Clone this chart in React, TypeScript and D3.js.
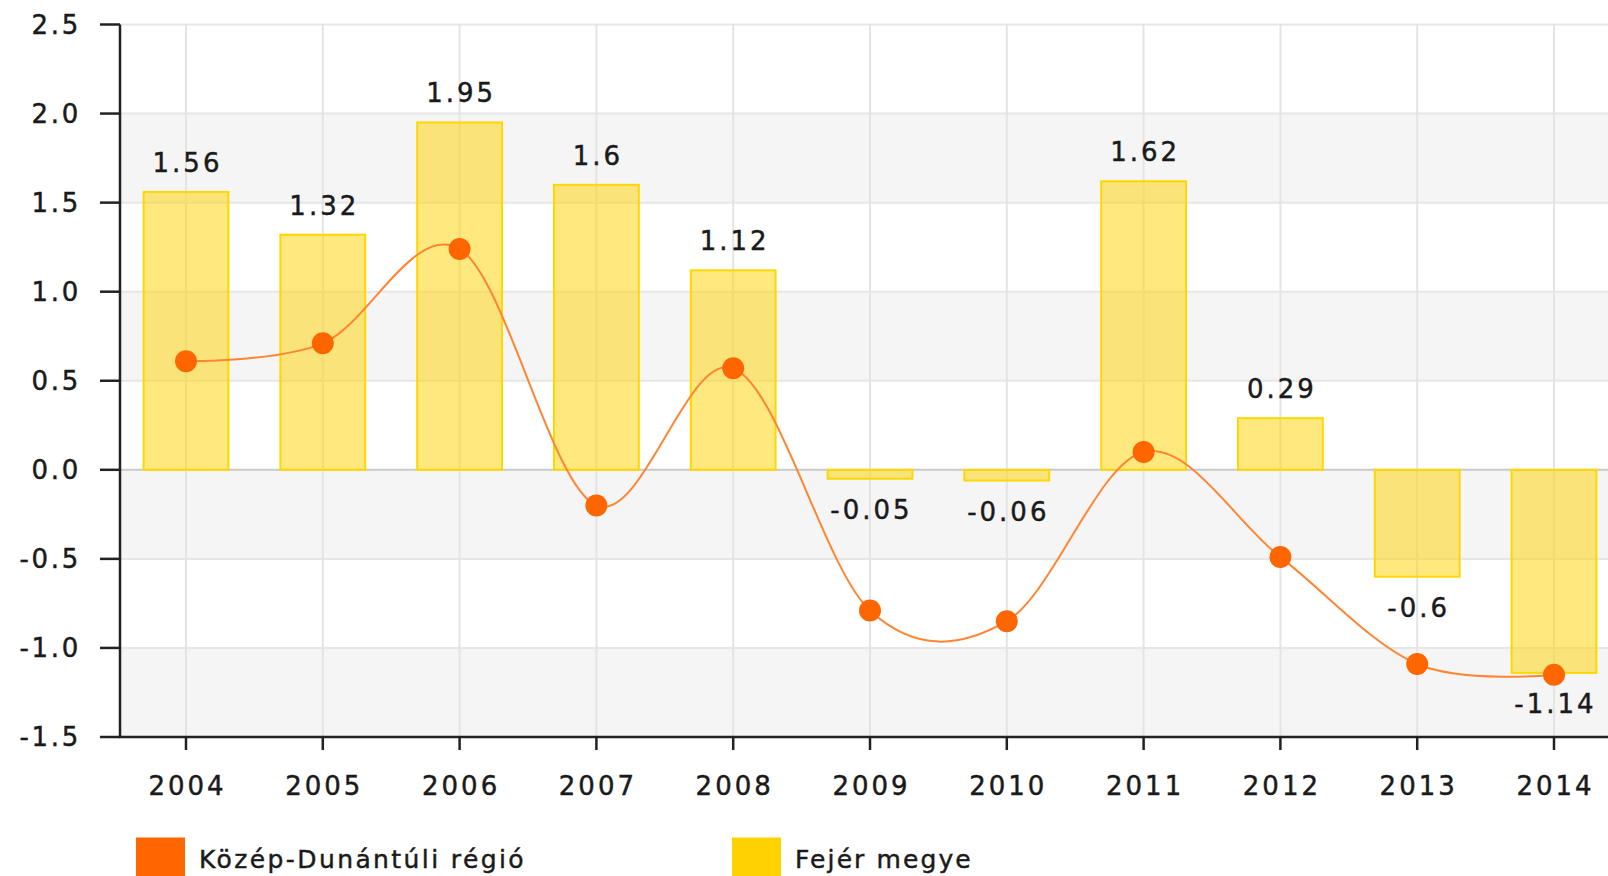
import React from "react";
import * as d3 from "d3";

const years = ["2004", "2005", "2006", "2007", "2008", "2009", "2010", "2011", "2012", "2013", "2014"];
const fejerValues = [1.56, 1.32, 1.95, 1.6, 1.12, -0.05, -0.06, 1.62, 0.29, -0.6, -1.14];
const regioValues = [0.61, 0.71, 1.24, -0.2, 0.57, -0.79, -0.85, 0.1, -0.49, -1.09, -1.15];
const yTicks = [2.5, 2.0, 1.5, 1.0, 0.5, 0.0, -0.5, -1.0, -1.5];
const seriesNames = ["Közép-Dunántúli régió", "Fejér megye"];
const seriesColors = ["#ff6600", "#ffd200"];

const W = 1608;
const H = 876;
const FONT = "'DejaVu Sans', Verdana, sans-serif";

export default function App() {
  const x = d3
    .scaleBand<string>()
    .domain(years)
    .range([117.6, 1622.4])
    .paddingInner(0.38)
    .paddingOuter(0.19);
  const y = d3.scaleLinear().domain([-1.5, 2.5]).range([737, 24.5]);
  const cx = (yr: string) => (x(yr) as number) + x.bandwidth() / 2;
  const left = 120;
  const right = 1640;
  const top = y(2.5);
  const bottom = y(-1.5);

  const bands = d3.range(0, 8).map((i) => ({ hi: 2.5 - i * 0.5, lo: 2.0 - i * 0.5, gray: i % 2 === 1 }));

  const line = d3
    .line<number>()
    .x((_, i) => cx(years[i]))
    .y((d) => y(d))
    .curve(d3.curveCardinal.tension(0));

  const textStyle = { fill: "#1a1a1a", stroke: "#1a1a1a", strokeWidth: 0.45 };

  return (
    <svg
      width={W}
      height={H}
      style={{ position: "fixed", left: 0, top: 0, background: "#fff" }}
      fontFamily={FONT}
    >
      {bands.map((b, i) => (
        <rect
          key={"band" + i}
          x={left}
          y={y(b.hi)}
          width={right - left}
          height={y(b.lo) - y(b.hi)}
          fill={b.gray ? "#f5f5f5" : "#ffffff"}
        />
      ))}
      {yTicks.filter((t) => t !== -1.5).map((t) => (
        <line
          key={"hg" + t}
          x1={left}
          x2={right}
          y1={y(t)}
          y2={y(t)}
          stroke={t === 0 ? "#c9c9c9" : "#e6e6e6"}
          strokeWidth={2}
        />
      ))}
      {years.map((yr) => (
        <line key={"vg" + yr} x1={cx(yr)} x2={cx(yr)} y1={top} y2={bottom} stroke="#e4e4e4" strokeWidth={2} />
      ))}
      {fejerValues.map((v, i) => (
        <rect
          key={"bar" + i}
          x={x(years[i]) as number}
          y={y(Math.max(0, v))}
          width={x.bandwidth()}
          height={Math.abs(y(v) - y(0))}
          fill="#ffd400"
          fillOpacity={0.5}
          stroke="#ffd700"
          strokeWidth={2}
        />
      ))}
      <path d={line(regioValues) || ""} fill="none" stroke="#ff8533" strokeWidth={2} />
      {regioValues.map((v, i) => (
        <circle key={"pt" + i} cx={cx(years[i])} cy={y(v)} r={11} fill="#ff6600" />
      ))}
      {fejerValues.map((v, i) => (
        <text
          key={"lbl" + i}
          x={cx(years[i]) + 1.5}
          y={v >= 0 ? y(v) - 20 : y(v) + 40}
          textAnchor="middle"
          fontSize={26}
          letterSpacing={3}
          style={textStyle}
        >
          {String(v)}
        </text>
      ))}
      <line x1={left} x2={left} y1={top} y2={bottom + 1} stroke="#222" strokeWidth={2.5} />
      {yTicks.map((t) => (
        <g key={"yt" + t}>
          <line x1={100} x2={left} y1={y(t)} y2={y(t)} stroke="#222" strokeWidth={2.5} />
          <text x={81} y={y(t) + 9} textAnchor="end" fontSize={26} letterSpacing={2.7} style={textStyle}>
            {t.toFixed(1)}
          </text>
        </g>
      ))}
      <line x1={left - 1} x2={right} y1={bottom} y2={bottom} stroke="#222" strokeWidth={2.5} />
      {years.map((yr) => (
        <g key={"xt" + yr}>
          <line x1={cx(yr)} x2={cx(yr)} y1={bottom} y2={bottom + 13} stroke="#222" strokeWidth={2.5} />
          <text x={cx(yr) + 1.5} y={795} textAnchor="middle" fontSize={26} letterSpacing={3} style={textStyle}>
            {yr}
          </text>
        </g>
      ))}
      {seriesNames.map((name, i) => {
        const lx = i === 0 ? 136 : 732;
        return (
          <g key={"leg" + i}>
            <rect x={lx} y={837.5} width={49} height={49} fill={seriesColors[i]} />
            <text x={lx + 63} y={867.5} fontSize={25} letterSpacing={i === 0 ? 2.4 : 2.1} style={textStyle}>
              {name}
            </text>
          </g>
        );
      })}
    </svg>
  );
}
